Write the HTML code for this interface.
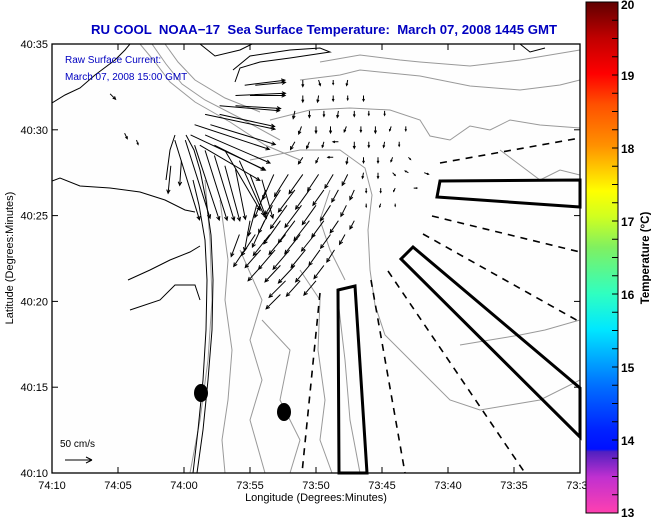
<!DOCTYPE html>
<html><head><meta charset="utf-8">
<style>
html,body{margin:0;padding:0;background:#fff;}
svg{display:block;font-family:"Liberation Sans",sans-serif;}
</style></head>
<body>
<svg id="chart" width="651" height="518" viewBox="0 0 651 518" xmlns="http://www.w3.org/2000/svg">
<defs>
<linearGradient id="cbar" x1="0" y1="1" x2="0" y2="0">
<stop offset="0" stop-color="#ff40b0"/>
<stop offset="0.07" stop-color="#c030d0"/>
<stop offset="0.12" stop-color="#5020c0"/>
<stop offset="0.125" stop-color="#0010ff"/>
<stop offset="0.16" stop-color="#0020ff"/>
<stop offset="0.25" stop-color="#0070ff"/>
<stop offset="0.36" stop-color="#00e8ff"/>
<stop offset="0.43" stop-color="#30ffc0"/>
<stop offset="0.52" stop-color="#80f060"/>
<stop offset="0.58" stop-color="#d0ff20"/>
<stop offset="0.63" stop-color="#ffff00"/>
<stop offset="0.72" stop-color="#ff9000"/>
<stop offset="0.8" stop-color="#ff5000"/>
<stop offset="0.86" stop-color="#ff0000"/>
<stop offset="0.93" stop-color="#c00000"/>
<stop offset="1" stop-color="#600000"/>
</linearGradient>
<clipPath id="plotclip"><rect x="52" y="44" width="528" height="429"/></clipPath>
</defs>

<text x="324" y="34" text-anchor="middle" font-size="13.2" font-weight="bold" fill="#0000c0" style="white-space:pre" xml:space="preserve">RU COOL  NOAA−17  Sea Surface Temperature:  March 07, 2008 1445 GMT</text>

<rect x="52" y="44" width="528" height="429" fill="#fefefe"/>

<g clip-path="url(#plotclip)" fill="none">
<g stroke="#999" stroke-width="1">
<path d="M320,62 L360,55 L400,60 L420,62 L470,66 L520,60 L580,50"/>
<path d="M300,80 L340,75 L360,70 L420,76 L470,86 L520,90 L560,85 L580,80"/>
<path d="M270,120 L310,110 L350,108 L390,110 L420,120 L430,136 L450,140 L470,126 L490,130 L510,120 L540,125 L580,128"/>
<path d="M250,160 L300,150 L340,150 L365,168 L372,195 L368,230 L370,270 L375,305 L385,335 L420,370 L450,400 L480,410 L510,405 L540,400 L580,380"/>
<path d="M140,44 L155,62 L170,82 L195,102 L230,122 L265,145 L300,160"/>
<path d="M152,44 L166,64 L182,84 L205,100 L240,118 L280,140"/>
<path d="M165,44 L178,62 L195,80 L225,98 L260,112"/>
<path d="M205,180 L210,240 L212,300 L208,360 L200,420 L190,473"/>
<path d="M220,200 L228,260 L225,300 L232,350 L228,400 L222,440 L225,473"/>
<path d="M240,250 L262,300 L250,340 L262,380 L250,420 L265,473"/>
<path d="M300,270 L320,300 L318,350 L325,400 L320,440 L332,473"/>
<path d="M262,320 L290,350 L280,400 L300,440 L290,473"/>
<path d="M338,300 L345,360 L350,420 L360,473"/>
<path d="M330,190 L320,220 L330,250 L345,280"/>
<path d="M500,150 L520,165 L540,180 L560,170 L580,175"/>
<path d="M460,345 L490,340 L520,335 L545,330 L580,320"/>
</g>
<g stroke="#000" stroke-width="1">
<path d="M52,103 L65,95 L80,88 L95,75 L115,60 L125,50 L130,44"/>
<path d="M52,181 L60,178 L80,186 L110,188 L140,192 L165,200 L185,210 L195,212"/>
<path d="M197,473 L203,430 L208,380 L212,330 L213,280 L211,235 L206,200 L200,170 L194,150 L186,135"/>
<path d="M193,473 L198,430 L203,380 L206,330 L207,280 L205,240 L199,205 L193,180"/>
<path d="M128,280 L150,270 L170,260 L190,252 L200,246"/>
<path d="M130,310 L160,300 L175,285 L195,285 L200,300"/>
<path d="M166,180 L170,150 L175,135"/>
<path d="M235,82 L240,68 L260,62 L290,58 L330,52 L320,48 L290,50 L250,56 L233,70"/>
<path d="M200,44 L215,56 L240,50 L252,44"/>
<path d="M520,44 L530,52 L545,48"/>
</g>
</g>

<g id="overlays" fill="none" stroke="#000">
<polygon points="338,290 355,286 367,473 339,473" stroke-width="3"/>
<polygon points="413,247 580,388 580,437 401,259" stroke-width="3"/>
<polygon points="440,181 580,180 580,207 437,197" stroke-width="3"/>
<g stroke-width="1.6" stroke-dasharray="7,6">
<line x1="440" y1="163" x2="580" y2="138"/>
<line x1="432" y1="216" x2="580" y2="252"/>
<line x1="423" y1="234" x2="580" y2="322"/>
<line x1="388" y1="271" x2="525" y2="473"/>
<line x1="371" y1="280" x2="405" y2="473"/>
<line x1="320" y1="293" x2="302" y2="473"/>
</g>
</g>
<ellipse cx="201" cy="393" rx="7" ry="9" fill="#000"/>
<ellipse cx="284" cy="412" rx="7" ry="9" fill="#000"/>

<g id="arrows" stroke="#000" stroke-width="1" fill="none" clip-path="url(#plotclip)"></g>

<text x="65" y="63" font-size="10" fill="#0000c0">Raw Surface Current:</text>
<text x="65" y="80" font-size="10" fill="#0000c0">March 07, 2008 15:00 GMT</text>
<text x="60" y="447" font-size="10" fill="#000">50 cm/s</text>
<g stroke="#000">
<line x1="65" y1="460" x2="92" y2="460"/><line x1="92" y1="460" x2="86" y2="457"/><line x1="92" y1="460" x2="86" y2="463"/>
</g>

<rect x="52" y="44" width="528" height="429" fill="none" stroke="#000" stroke-width="1.3"/>
<g id="axes"></g>

<text transform="translate(13,258) rotate(-90)" text-anchor="middle" font-size="11">Latitude (Degrees:Minutes)</text>
<text x="316" y="501" text-anchor="middle" font-size="11">Longitude (Degrees:Minutes)</text>

<rect x="586" y="2" width="32" height="511" fill="url(#cbar)" stroke="#000" stroke-width="1"/>
<g id="cbticks"></g>
<text transform="translate(649,258) rotate(-90)" text-anchor="middle" font-size="11.5" font-weight="bold">Temperature (°C)</text>
</svg>

<script>
const xTickLabels = ["74:10","74:05","74:00","73:55","73:50","73:45","73:40","73:35","73:30"];
const yTickLabels = ["40:10","40:15","40:20","40:25","40:30","40:35"];
const cbTickValues = [13,14,15,16,17,18,19,20];
// current vectors: position in minutes east of 74:10 (lon) / north of 40:10 (lat), u/v in cm/s
const arrowLon = [14.6,15.4,13.9,15.0,12.7,13.9,11.6,12.7,10.8,12.0,10.5,11.6,11.2,12.3,
 9.3,10.1,10.8,11.6,12.3,13.1,13.9,13.1,14.2,15.0,15.9,
 16.8,17.9,19.0,20.2,21.3,22.4,
 16.2,17.3,18.4,19.5,20.6,21.7,22.9,
 15.5,16.7,17.8,18.9,20.0,21.1,22.3,
 15.0,16.1,17.3,18.4,19.5,20.6,21.7,22.9,
 14.2,15.4,16.5,17.7,18.8,19.9,21.1,22.2,
 14.6,15.8,16.9,18.0,19.2,20.3,21.4,
 15.9,17.3,18.4,19.5,20.6,
 17.7,18.8,20.0,17.3,
 19.0,20.2,21.3,22.4,
 19.0,20.2,21.3,22.4,23.6,
 18.4,19.5,20.6,21.7,22.9,24.0,25.2,
 18.9,20.0,21.1,22.3,23.4,24.5,25.7,26.8,
 18.4,19.5,20.6,21.7,22.9,24.0,25.2,26.3,
 19.0,20.2,21.3,22.4,23.6,24.7,25.8,27.0,
 23.6,24.7,25.8,27.0,28.2,
 23.8,24.9,26.0,27.4,
 23.8,24.9,26.0,
 4.4,5.5,6.4,9.0,9.8];
const arrowLat = [22.6,22.6,22.0,22.0,21.4,21.4,20.9,20.9,20.3,20.3,19.7,19.7,19.1,19.1,
 19.4,19.4,19.1,18.8,18.5,17.9,17.7,18.8,18.2,17.4,17.1,
 17.4,17.4,17.4,17.4,17.4,17.4,
 16.5,16.5,16.5,16.5,16.5,16.5,16.5,
 15.6,15.6,15.6,15.6,15.6,15.6,15.6,
 14.7,14.7,14.7,14.7,14.7,14.7,14.7,14.7,
 13.9,13.9,13.9,13.9,13.9,13.9,13.9,13.9,
 13.0,13.0,13.0,13.0,13.0,13.0,13.0,
 12.1,12.1,12.1,12.1,12.1,
 11.2,11.2,11.2,10.4,
 22.9,22.9,22.9,22.9,
 22.0,22.0,22.0,22.0,22.0,
 21.1,21.1,21.1,21.1,21.1,21.1,21.1,
 20.2,20.2,20.2,20.2,20.2,20.2,20.2,20.2,
 19.3,19.3,19.3,19.3,19.3,19.3,19.3,19.3,
 18.4,18.4,18.4,18.4,18.4,18.4,18.4,18.4,
 17.5,17.5,17.5,17.5,17.5,
 16.6,16.6,16.6,16.6,
 15.7,15.7,15.7,
 22.1,19.8,19.4,17.9,18.2];
const arrowU = [73,55,91,64,109,82,127,100,136,118,136,118,109,91,
 45,45,45,40,36,27,18,64,45,30,20,
 -20,-25,-25,-20,-15,-10,
 -20,-28,-30,-25,-20,-12,-8,
 -15,-25,-30,-30,-25,-18,-10,
 -10,-22,-30,-30,-28,-22,-15,-8,
 -15,-25,-30,-30,-28,-24,-18,-10,
 -20,-28,-30,-30,-26,-20,-14,
 -25,-28,-30,-25,-18,
 -30,-25,-22,-26,
 0,3,0,-2,
 0,-2,0,0,0,
 -3,0,0,-2,0,0,0,
 -5,0,0,-4,0,0,-3,0,
 -8,-5,-3,-10,0,0,-2,0,
 -8,-5,-10,-2,0,0,-3,4,
 -2,0,5,-6,8,
 0,0,-3,6,
 0,-2,0,
 10,5,3,-5,-3];
const arrowV = [9,5,4,0,-9,-5,-27,-22,-45,-36,-64,-51,-64,-45,
 -145,-142,-136,-127,-118,-100,-91,-109,-100,-80,-70,
 -45,-40,-35,-30,-25,-20,
 -50,-45,-40,-35,-28,-22,-18,
 -55,-50,-42,-40,-35,-28,-20,
 -55,-48,-42,-40,-36,-30,-22,-15,
 -40,-38,-38,-36,-35,-30,-25,-18,
 -30,-32,-35,-35,-32,-28,-22,
 -28,-30,-32,-30,-24,
 -30,-28,-26,-26,
 -12,-10,-8,-10,
 -12,-12,-10,-8,-10,
 -14,-12,-10,-12,-10,-8,-8,
 -14,-12,-12,-10,-10,-12,-8,-8,
 -14,-12,-10,0,-12,-10,-10,-8,
 -12,-10,0,-12,-10,-10,-8,-4,
 -10,-10,-5,3,-3,
 -8,-8,-6,0,
 -6,-6,-5,
 -10,-10,-8,-50,-45];

const NS = "http://www.w3.org/2000/svg";
const X0 = 52, X1 = 580, Y0 = 473, Y1 = 44;
const xScale = m => X0 + m * (X1 - X0) / 40;
const yScale = n => Y0 - n * (Y0 - Y1) / 25;
const pxPerCm = 0.55;
const cbY = t => 513 - (t - 13) * (511 / 7);

const arrows = document.getElementById("arrows");
for (let i = 0; i < arrowLon.length; i++) {
  const x = xScale(arrowLon[i]), y = yScale(arrowLat[i]);
  const dx = arrowU[i] * pxPerCm, dy = -arrowV[i] * pxPerCm;
  const len = Math.hypot(dx, dy);
  const tx = x + dx, ty = y + dy;
  const ang = Math.atan2(dy, dx);
  const hl = Math.min(4, len * 0.4);
  const a1 = ang + Math.PI - 0.45, a2 = ang + Math.PI + 0.45;
  const p = document.createElementNS(NS, "path");
  p.setAttribute("d", `M${x.toFixed(1)},${y.toFixed(1)} L${tx.toFixed(1)},${ty.toFixed(1)} M${(tx + hl*Math.cos(a1)).toFixed(1)},${(ty + hl*Math.sin(a1)).toFixed(1)} L${tx.toFixed(1)},${ty.toFixed(1)} L${(tx + hl*Math.cos(a2)).toFixed(1)},${(ty + hl*Math.sin(a2)).toFixed(1)}`);
  
  
  arrows.appendChild(p);
}

const axes = document.getElementById("axes");
xTickLabels.forEach((lab, i) => {
  const x = xScale(i * 5);
  for (const [ya, yb] of [[Y0, Y0 - 6], [Y1, Y1 + 6]]) {
    const l = document.createElementNS(NS, "line");
    l.setAttribute("x1", x); l.setAttribute("x2", x);
    l.setAttribute("y1", ya); l.setAttribute("y2", yb);
    l.setAttribute("stroke", "#000");
    
    
    axes.appendChild(l);
  }
  const t = document.createElementNS(NS, "text");
  t.setAttribute("x", x); t.setAttribute("y", 489);
  t.setAttribute("text-anchor", "middle"); t.setAttribute("font-size", "11");
  t.textContent = lab;
  
  
  axes.appendChild(t);
});
yTickLabels.forEach((lab, i) => {
  const y = yScale(i * 5);
  for (const [xa, xb] of [[X0, X0 + 6], [X1, X1 - 6]]) {
    const l = document.createElementNS(NS, "line");
    l.setAttribute("x1", xa); l.setAttribute("x2", xb);
    l.setAttribute("y1", y); l.setAttribute("y2", y);
    l.setAttribute("stroke", "#000");
    
    
    axes.appendChild(l);
  }
  const t = document.createElementNS(NS, "text");
  t.setAttribute("x", 48); t.setAttribute("y", y + 4);
  t.setAttribute("text-anchor", "end"); t.setAttribute("font-size", "11");
  t.textContent = lab;
  
  
  axes.appendChild(t);
});

const cbt = document.getElementById("cbticks");
for (let k = 0; k < (cbTickValues.length - 1) * 4; k++) {
  const v = cbTickValues[0] + k * 0.25;
  const y = cbY(v);
  const l = document.createElementNS(NS, "line");
  l.setAttribute("x1", 612); l.setAttribute("x2", 618);
  l.setAttribute("y1", y); l.setAttribute("y2", y);
  l.setAttribute("stroke", "#000");
  
  
  cbt.appendChild(l);
}
cbTickValues.forEach(v => {
  const t = document.createElementNS(NS, "text");
  t.setAttribute("x", 621); t.setAttribute("y", Math.min(517, Math.max(9, cbY(v) + 5)));
  t.setAttribute("font-size", "12"); t.setAttribute("font-weight", "bold");
  t.textContent = v;
  
  
  cbt.appendChild(t);
});
</script>
</body></html>
